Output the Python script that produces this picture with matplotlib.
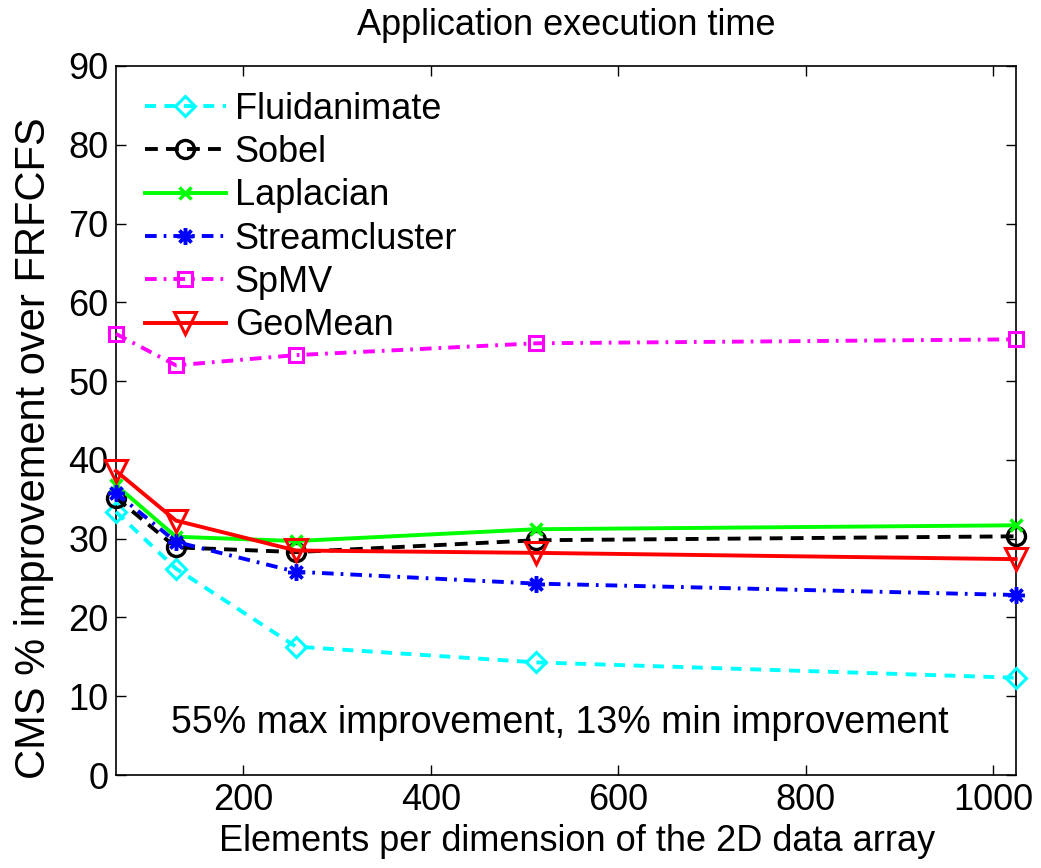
import matplotlib
matplotlib.use("Agg")
import matplotlib.pyplot as plt

plt.rcParams['font.family'] = ['Liberation Sans', 'DejaVu Sans']

sizes = [64, 128, 256, 512, 1024]
fluidanimate = [33.4, 26.2, 16.3, 14.3, 12.35]
sobel = [35.2, 28.9, 28.3, 29.8, 30.3]
laplacian = [36.8, 30.25, 29.7, 31.2, 31.7]
streamcluster = [35.8, 29.6, 25.8, 24.3, 22.85]
spmv = [56.0, 52.0, 53.3, 54.8, 55.3]
geomean = [38.6, 32.3, 28.5, 28.2, 27.4]

series_names = ["Fluidanimate", "Sobel", "Laplacian", "Streamcluster", "SpMV", "GeoMean"]
series_values = [fluidanimate, sobel, laplacian, streamcluster, spmv, geomean]

xticks = [200, 400, 600, 800, 1000]
yticks = list(range(0, 91, 10))

styles = [
    dict(color=(0, 1, 1), ls=(0, (2.8, 2.2)), marker='D', ms=10, mew=2.2, mfc='none'),
    dict(color='black', ls=(0, (3.3, 2.1)), marker='o', ms=13, mew=2.4, mfc='none'),
    dict(color=(0, 1, 0), ls='-', marker='x', ms=9, mew=2.5, mfc='none'),
    dict(color=(0, 0, 1), ls=(0, (3.0, 1.8, 0.7, 1.8)), marker=(8, 2, 0), ms=12, mew=2.5, mfc='none'),
    dict(color=(1, 0, 1), ls=(0, (3.0, 1.8, 0.7, 1.8)), marker='s', ms=10.5, mew=2.2, mfc='none'),
    dict(color=(1, 0, 0), ls='-', marker='v', ms=15.5, mew=2.2, mfc='none'),
]

fig = plt.figure(figsize=(10.41, 8.68), dpi=100)
ax = fig.add_axes([0.1114, 0.1071, 0.9757 - 0.1114, 0.924 - 0.1071])

for name, vals, st in zip(series_names, series_values, styles):
    ax.plot(sizes, vals, label=name, color=st['color'], linestyle=st['ls'], lw=2.8,
            marker=st['marker'], markersize=st['ms'], markeredgewidth=st['mew'],
            markerfacecolor=st['mfc'], markeredgecolor=st['color'], clip_on=False, zorder=3)

ax.set_xlim(64, 1024)
ax.set_ylim(0, 90)
ax.set_xticks(xticks)
ax.set_yticks(yticks)
ax.tick_params(direction='in', length=7, width=1, top=True, right=True, labelsize=26)
ax.tick_params(axis='x', pad=5.8)
ax.tick_params(axis='y', pad=5.5)
for s in ax.spines.values():
    s.set_linewidth(1.2)

ax.set_title("Application execution time", fontsize=26, pad=22)
ax.set_xlabel("Elements per dimension of the 2D data array", fontsize=26)
ax.xaxis.set_label_coords(0.512, -0.0695)
ax.set_ylabel("CMS % improvement over FRFCFS", fontsize=30)
ax.yaxis.set_label_coords(-0.069, 0.461)

ax.text(538, 5.33, "55% max improvement, 13% min improvement", fontsize=27,
        ha='center', va='baseline')

leg = ax.legend(loc='upper left', frameon=False, fontsize=26, handlelength=2.24,
                handletextpad=0.25, labelspacing=0.23, borderaxespad=0.0,
                borderpad=0.4, bbox_to_anchor=(0.0162, 0.984))

fig.savefig("out.png", dpi=100)
